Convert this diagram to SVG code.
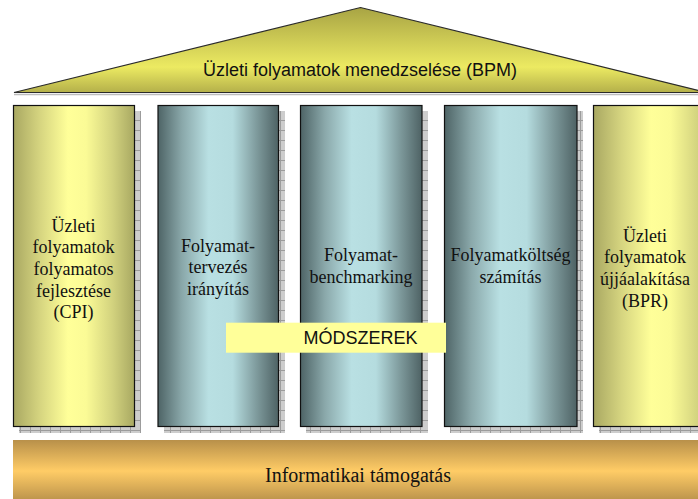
<svg xmlns="http://www.w3.org/2000/svg" width="698" height="499" viewBox="0 0 698 499">
  <defs>
    <linearGradient id="gYellow" x1="0" y1="0" x2="1" y2="0">
      <stop offset="0" stop-color="#a9a862"/>
      <stop offset="0.22" stop-color="#d6d580"/>
      <stop offset="0.45" stop-color="#ffff99"/>
      <stop offset="0.6" stop-color="#fbfb96"/>
      <stop offset="0.82" stop-color="#d2d27e"/>
      <stop offset="1" stop-color="#a8a862"/>
    </linearGradient>
    <linearGradient id="gTeal" x1="0" y1="0" x2="1" y2="0">
      <stop offset="0" stop-color="#4e6466"/>
      <stop offset="0.2" stop-color="#8aa8aa"/>
      <stop offset="0.42" stop-color="#b9e0e3"/>
      <stop offset="0.62" stop-color="#b5dcdf"/>
      <stop offset="0.82" stop-color="#7e9a9c"/>
      <stop offset="1" stop-color="#4e6264"/>
    </linearGradient>
    <linearGradient id="gRoof" x1="0" y1="0" x2="0" y2="1">
      <stop offset="0" stop-color="#a8a444"/>
      <stop offset="0.7" stop-color="#ecea62"/>
      <stop offset="1" stop-color="#b4b04a"/>
    </linearGradient>
    <linearGradient id="gBase" x1="0" y1="0" x2="0" y2="1">
      <stop offset="0" stop-color="#b8904a"/>
      <stop offset="0.5" stop-color="#ffcc66"/>
      <stop offset="1" stop-color="#b8904a"/>
    </linearGradient>
    <pattern id="pShadow" x="0" y="0" width="10" height="10" patternUnits="userSpaceOnUse">
      <rect width="10" height="10" fill="#cdcdcd"/>
      <rect x="0" y="0" width="10" height="1" fill="#9c9c9c"/>
      <rect x="0" y="0" width="1" height="10" fill="#9c9c9c"/>
    </pattern>
  </defs>
  <style>
    .shadow { fill: url(#pShadow); }
    .pillar { stroke: #111; stroke-width: 1.2; }
    .yellow { fill: url(#gYellow); }
    .teal { fill: url(#gTeal); }
    .serif { font-family: "Liberation Serif", "Times New Roman", serif; font-size: 18px; fill: #111; text-anchor: middle; }
    .sans { font-family: "Liberation Sans", Arial, sans-serif; font-size: 18px; fill: #111; text-anchor: middle; }
  </style>

  <rect width="698" height="499" fill="#ffffff"/>

  <!-- roof -->
  <g id="roof">
    <line x1="14" y1="94.5" x2="706" y2="94.5" stroke="#bdbdbd" stroke-width="1.5"/>
    <polygon points="14,92.5 360.5,7.5 707,92.5" fill="url(#gRoof)" stroke="#2a2a2a" stroke-width="1.2"/>
    <text class="sans" x="360" y="76">Üzleti folyamatok menedzselése (BPM)</text>
  </g>

  <!-- pillars -->
  <g id="pillar-cpi">
    <rect class="shadow" x="19" y="111" width="122" height="322"/>
    <rect class="pillar yellow" x="13.5" y="105.5" width="121" height="321"/>
    <text class="serif" x="73.5" y="231.5">Üzleti</text>
    <text class="serif" x="73.5" y="253.2">folyamatok</text>
    <text class="serif" x="73.5" y="274.9">folyamatos</text>
    <text class="serif" x="73.5" y="296.6">fejlesztése</text>
    <text class="serif" x="73.5" y="318.3">(CPI)</text>
  </g>

  <g id="pillar-planning">
    <rect class="shadow" x="164" y="111" width="121" height="322"/>
    <rect class="pillar teal" x="158" y="105.5" width="120.5" height="321"/>
    <text class="serif" x="218" y="251.7">Folyamat-</text>
    <text class="serif" x="218" y="273.3">tervezés</text>
    <text class="serif" x="218" y="295">irányítás</text>
  </g>

  <g id="pillar-benchmarking">
    <rect class="shadow" x="306" y="111" width="122" height="322"/>
    <rect class="pillar teal" x="300.5" y="105.5" width="121.5" height="321"/>
    <text class="serif" x="361" y="261">Folyamat-</text>
    <text class="serif" x="361" y="282.7">benchmarking</text>
  </g>

  <g id="pillar-costing">
    <rect class="shadow" x="450" y="111" width="133" height="322"/>
    <rect class="pillar teal" x="444.5" y="105.5" width="132.5" height="321"/>
    <text class="serif" x="510.5" y="261">Folyamatköltség</text>
    <text class="serif" x="510.5" y="282.7">számítás</text>
  </g>

  <g id="pillar-bpr">
    <rect class="shadow" x="599" y="111" width="128" height="322"/>
    <rect class="pillar yellow" x="593.5" y="105.5" width="128" height="321"/>
    <text class="serif" x="645" y="241.7">Üzleti</text>
    <text class="serif" x="645" y="263.3">folyamatok</text>
    <text class="serif" x="645" y="285">újjáalakítása</text>
    <text class="serif" x="645" y="306.7">(BPR)</text>
  </g>

  <!-- methods label across the pillars -->
  <g id="methods">
    <rect x="226" y="322.7" width="220" height="30" fill="#ffff99"/>
    <text class="sans" x="360.5" y="344">MÓDSZEREK</text>
  </g>

  <!-- foundation -->
  <g id="foundation">
    <rect x="13" y="440" width="700" height="62" fill="url(#gBase)"/>
    <text class="serif" x="358" y="482" style="font-size:20px">Informatikai támogatás</text>
  </g>

  <g id="connectors"/>
</svg>
